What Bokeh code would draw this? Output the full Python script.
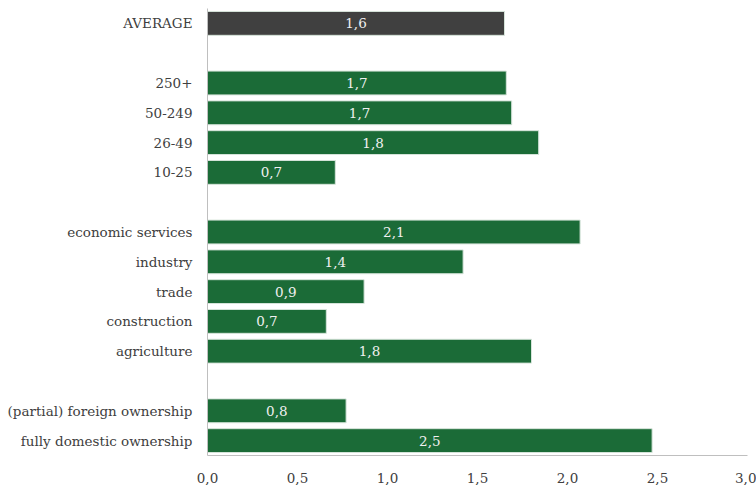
from bokeh.plotting import figure
from bokeh.models import ColumnDataSource, Range1d, FixedTicker
from bokeh.embed import file_html
from bokeh.resources import INLINE
from bokeh.core.properties import value

# ---- data ----
categories = ["AVERAGE", "", "250+", "50-249", "26-49", "10-25", "",
              "economic services", "industry", "trade", "construction", "agriculture", "",
              "(partial) foreign ownership", "fully domestic ownership"]
values = [1.65, None, 1.66, 1.69, 1.84, 0.71, None,
          2.07, 1.42, 0.87, 0.66, 1.80, None,
          0.77, 2.47]
x_ticks = [0.0, 0.5, 1.0, 1.5, 2.0, 2.5, 3.0]
x_tick_labels = ["0,0", "0,5", "1,0", "1,5", "2,0", "2,5", "3,0"]

GREEN = "#1b6b37"
GREY = "#404040"
FONT = "DejaVu Serif"

rows, vals, cols, labels, mids = [], [], [], [], []
for i, (c, v) in enumerate(zip(categories, values)):
    if v is None:
        continue
    rows.append(i)
    vals.append(v)
    cols.append(GREY if c == "AVERAGE" else GREEN)
    labels.append(f"{v:.1f}".replace(".", ","))
    mids.append(v / 2)

src = ColumnDataSource(dict(y=rows, right=vals, color=cols, label=labels, mid=mids))

p = figure(width=756, height=485, output_backend="svg", toolbar_location=None,
           x_range=Range1d(0, 3.0), y_range=Range1d(len(categories) - 0.5, -0.5),
           min_border_left=207, min_border_right=9, min_border_top=8, min_border_bottom=30)
p.outline_line_color = None
p.grid.visible = False

p.hbar(y="y", left=0, right="right", height=0.8, fill_color="color",
       line_color="#d6e4da", line_width=1, source=src)
p.text(x="mid", y="y", text="label", source=src, text_align="center", text_baseline="middle",
       text_color="#f0f0f0", text_font=value(FONT), text_font_size="13.5px")

# y axis
p.yaxis.ticker = FixedTicker(ticks=rows)
p.yaxis.major_label_overrides = {i: categories[i] for i in rows}
p.yaxis.major_tick_line_color = None
p.yaxis.minor_tick_line_color = None
p.yaxis.axis_line_color = "#bfbfbf"
p.yaxis.major_label_standoff = 9
p.yaxis.major_label_text_font = FONT
p.yaxis.major_label_text_font_size = "13.5px"
p.yaxis.major_label_text_color = "#404040"

# x axis
p.xaxis.ticker = FixedTicker(ticks=x_ticks)
p.xaxis.major_label_overrides = {t: l for t, l in zip(x_ticks, x_tick_labels)}
p.xaxis.major_tick_line_color = None
p.xaxis.minor_tick_line_color = None
p.xaxis.axis_line_color = "#bfbfbf"
p.xaxis.major_label_standoff = 11
p.xaxis.major_label_text_font = FONT
p.xaxis.major_label_text_font_size = "13.5px"
p.xaxis.major_label_text_color = "#404040"

open("out.html", "w").write(file_html(p, INLINE))
